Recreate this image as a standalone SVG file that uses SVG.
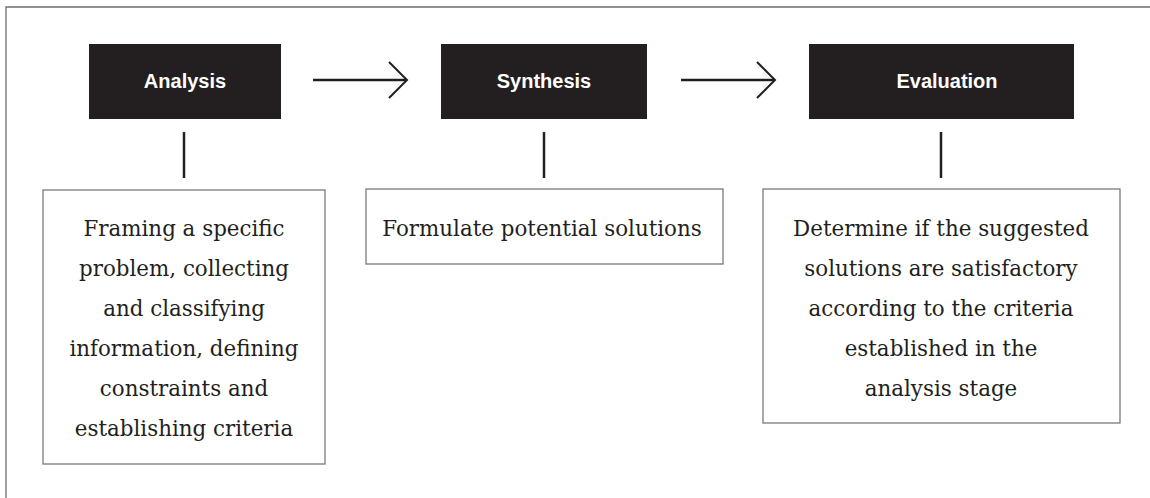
<svg xmlns="http://www.w3.org/2000/svg" width="1150" height="498" viewBox="0 0 1150 498">
<style>
.frame{fill:none;stroke:#6f6f6f;stroke-width:1.3}
.head{fill:#231f20}
.headtxt{font-family:"Liberation Sans",Arial,sans-serif;font-weight:bold;font-size:20px;fill:#ffffff;text-anchor:middle}
.box{fill:#ffffff;stroke:#7a7a7a;stroke-width:1.3}
.body{font-family:"DejaVu Serif","Liberation Serif",serif;font-size:21.4px;fill:#231f20;text-anchor:middle}
.conn{stroke:#231f20;stroke-width:2.5;fill:none}
.chev{stroke:#231f20;stroke-width:2;fill:none}
</style>
<rect width="1150" height="498" fill="#ffffff"/>
<path class="frame" d="M6,498 V7 H1150"/>
<g id="analysis">
<rect class="head" x="89" y="44" width="192" height="75"/>
<text class="headtxt" x="185" y="88">Analysis</text>
</g>
<g id="synthesis">
<rect class="head" x="441" y="44" width="206" height="75"/>
<text class="headtxt" x="544" y="88">Synthesis</text>
</g>
<g id="evaluation">
<rect class="head" x="809" y="44" width="265" height="75"/>
<text class="headtxt" x="947" y="88">Evaluation</text>
</g>
<g id="analysis-desc">
<rect class="box" x="43" y="190" width="282" height="274"/>
<text class="body" x="184" y="236">Framing a specific</text>
<text class="body" x="184" y="276">problem, collecting</text>
<text class="body" x="184" y="316">and classifying</text>
<text class="body" x="184" y="356">information, defining</text>
<text class="body" x="184" y="396">constraints and</text>
<text class="body" x="184" y="436">establishing criteria</text>
</g>
<g id="synthesis-desc">
<rect class="box" x="366" y="189" width="357" height="75"/>
<text class="body" x="542" y="236">Formulate potential solutions</text>
</g>
<g id="evaluation-desc">
<rect class="box" x="763" y="189" width="357" height="234"/>
<text class="body" x="941" y="236">Determine if the suggested</text>
<text class="body" x="941" y="276">solutions are satisfactory</text>
<text class="body" x="941" y="316">according to the criteria</text>
<text class="body" x="941" y="356">established in the</text>
<text class="body" x="941" y="396">analysis stage</text>
</g>
<g id="connectors">
<line class="conn" x1="313" y1="80" x2="407" y2="80"/>
<path class="chev" d="M389,62 L407,80 L389,98"/>
<line class="conn" x1="681" y1="80" x2="775" y2="80"/>
<path class="chev" d="M757,62 L775,80 L757,98"/>
<line class="conn" x1="184" y1="132" x2="184" y2="178"/>
<line class="conn" x1="544" y1="132" x2="544" y2="178"/>
<line class="conn" x1="941" y1="132" x2="941" y2="178"/>
</g>
</svg>
